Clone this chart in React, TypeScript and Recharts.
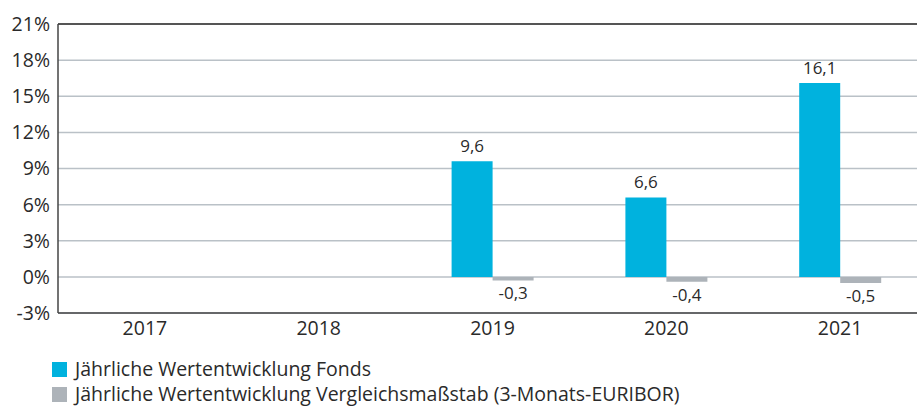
import { Bar, BarChart, CartesianGrid, LabelList, ReferenceLine, XAxis, YAxis } from "recharts";

const years = ["2017", "2018", "2019", "2020", "2021"];
const fonds = [null, null, 9.6, 6.6, 16.1];
const vergleich = [null, null, -0.3, -0.4, -0.5];
const yTicks = [-3, 0, 3, 6, 9, 12, 15, 18, 21];
const legendLabels = [
  "Jährliche Wertentwicklung Fonds",
  "Jährliche Wertentwicklung Vergleichsmaßstab (3-Monats-EURIBOR)",
];

const BLUE = "#00b2de";
const GREY = "#adb3b9";
const TEXT = "#2a2a2a";
const FONT = "'Open Sans', sans-serif";

const data = years.map((year, i) => ({
  year,
  fonds: fonds[i],
  vergleich: vergleich[i],
}));

const fmt = (v: number) => String(v).replace(".", ",");

function ValueLabel(props: any) {
  const { x, y, width, height, value } = props;
  if (value === null || value === undefined) return null;
  const top = Math.min(y, y + height);
  const bottom = Math.max(y, y + height);
  const cx = x + width / 2;
  if (value >= 0) {
    return (
      <text x={cx} y={top - 9} textAnchor="middle" fill={TEXT} fontSize={17} fontFamily={FONT}>
        {fmt(value)}
      </text>
    );
  }
  return (
    <text x={cx} y={bottom + 19} textAnchor="middle" fill={TEXT} fontSize={17} fontFamily={FONT}>
      {fmt(value)}
    </text>
  );
}

export default function App() {
  return (
    <div
      style={{
        position: "fixed",
        left: 0,
        top: 0,
        width: 917,
        height: 408,
        overflow: "hidden",
        background: "#fff",
        fontFamily: FONT,
      }}
    >
      <BarChart
        width={940}
        height={344}
        data={data}
        margin={{ top: 24, right: 13, left: 0, bottom: 0 }}
        barGap={0}
        barSize={41}
      >
        <CartesianGrid vertical={false} stroke="#bac1c7" strokeWidth={1.5} />
        <XAxis
          dataKey="year"
          height={31}
          tickLine={false}
          axisLine={{ stroke: "#444", strokeWidth: 1.5 }}
          tick={{ fill: TEXT, fontSize: 19.5, fontFamily: FONT }}
        />
        <YAxis
          width={58}
          domain={[-3, 21]}
          ticks={yTicks}
          interval={0}
          tickFormatter={(v: number) => `${v}%`}
          tickLine={false}
          axisLine={{ stroke: "#444", strokeWidth: 1.5 }}
          tick={{ fill: TEXT, fontSize: 19.5, fontFamily: FONT }}
        />
        <ReferenceLine y={21} stroke="#555" strokeWidth={2} />
        <Bar dataKey="fonds" fill={BLUE} isAnimationActive={false}>
          <LabelList dataKey="fonds" content={ValueLabel} />
        </Bar>
        <Bar dataKey="vergleich" fill={GREY} isAnimationActive={false}>
          <LabelList dataKey="vergleich" content={ValueLabel} />
        </Bar>
      </BarChart>
      <div style={{ position: "absolute", left: 52, top: 358, color: TEXT, fontSize: 19.5 }}>
        {legendLabels.map((label, i) => (
          <div
            key={label}
            style={{
              display: "flex",
              alignItems: "center",
              height: 22,
              lineHeight: "22px",
              marginBottom: i === 0 ? 3 : 0,
            }}
          >
            <span
              style={{
                display: "inline-block",
                width: 15,
                height: 15,
                background: i === 0 ? BLUE : GREY,
                marginRight: 8,
                flexShrink: 0,
              }}
            />
            <span style={{ whiteSpace: "nowrap" }}>{label}</span>
          </div>
        ))}
      </div>
    </div>
  );
}
